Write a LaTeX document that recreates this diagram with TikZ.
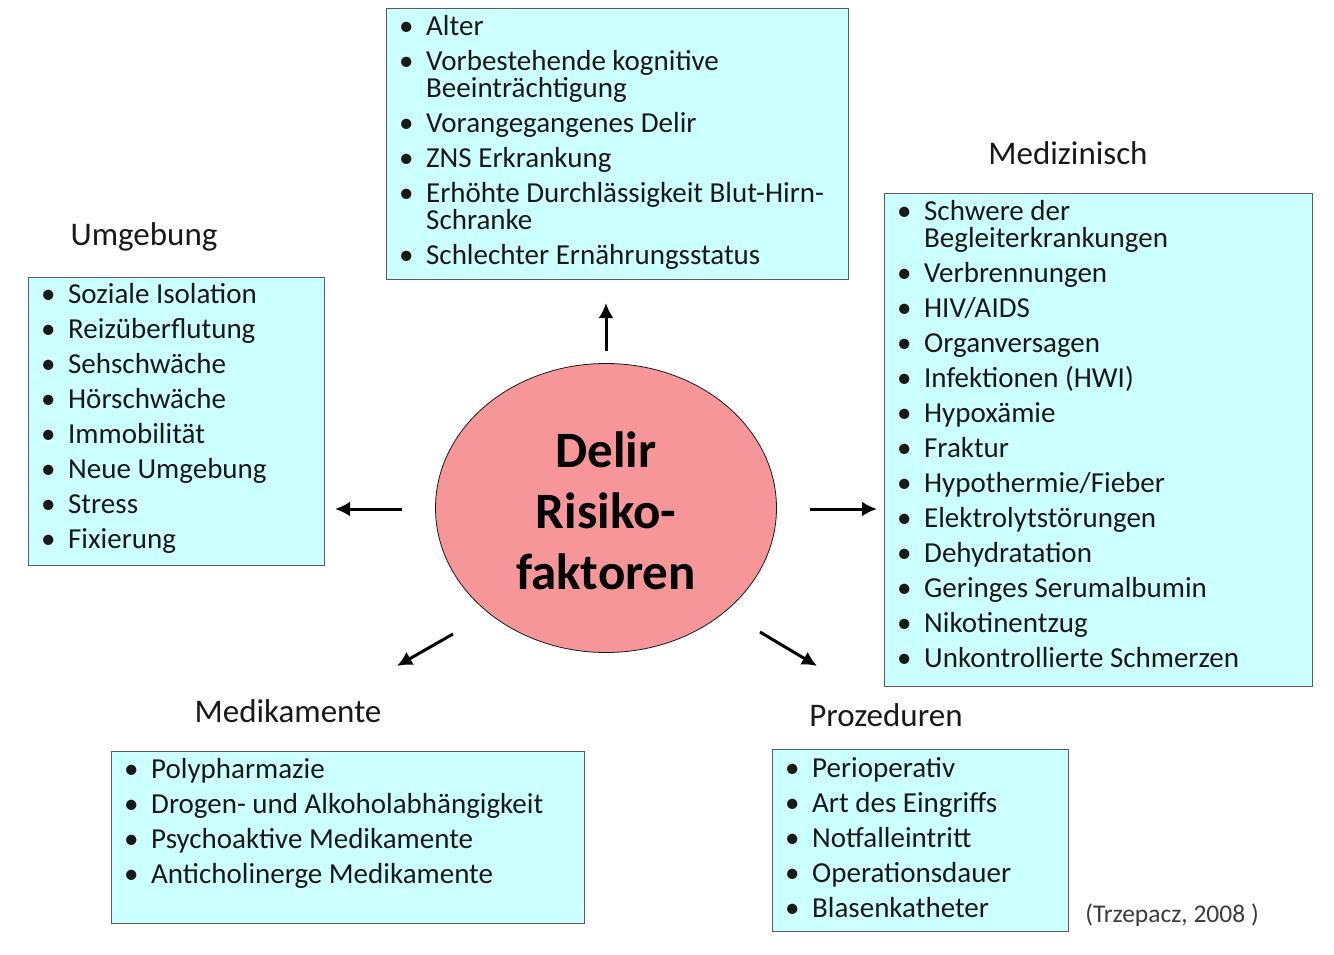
\documentclass[tikz,border=0pt]{standalone}
\usepackage{fontspec}
\setmainfont{Carlito}
\usetikzlibrary{arrows.meta,shapes.geometric}
\definecolor{boxfill}{RGB}{204,255,255}
\definecolor{boxline}{RGB}{90,90,90}
\definecolor{ovalfill}{RGB}{246,150,152}
\definecolor{txt}{RGB}{25,25,25}
\newcommand{\bul}{\makebox[27pt][l]{\textbullet}}
\newcommand{\cont}{\hspace*{27pt}}
\begin{document}
\begin{tikzpicture}[x=1pt,y=-1pt,
  panel/.style={draw=boxline, line width=1.3pt, fill=boxfill, anchor=north west, inner sep=0pt},
  list/.style={anchor=north west, align=left, inner sep=0pt, font=\fontsize{29}{35}\selectfont, text=txt},
  heading/.style={font=\fontsize{33}{38}\selectfont, text=txt},
  arr/.style={line width=3pt, -{Latex[length=15pt,width=15pt]}}]
\useasboundingbox (0,0) rectangle (1334,955);
% top box
\node[panel, minimum width=462pt, minimum height=271pt] (topbox) at (386,8) {};
\node[list] (toptext) at (399,15) {\bul Alter\\
\bul Vorbestehende kognitive\\[-8pt]
\cont Beeinträchtigung\\
\bul Vorangegangenes Delir\\
\bul ZNS Erkrankung\\
\bul Erhöhte Durchlässigkeit Blut-Hirn-\\[-8pt]
\cont Schranke\\
\bul Schlechter Ernährungsstatus};
% Umgebung
\node[heading] (hUmg) at (144,237) {Umgebung};
\node[panel, minimum width=296pt, minimum height=288pt] (umgbox) at (28,277) {};
\node[list] (umgtext) at (41,283) {\bul Soziale Isolation\\
\bul Reizüberflutung\\
\bul Sehschwäche\\
\bul Hörschwäche\\
\bul Immobilität\\
\bul Neue Umgebung\\
\bul Stress\\
\bul Fixierung};
% Medizinisch
\node[heading] (hMed) at (1068,153) {Medizinisch};
\node[panel, minimum width=428pt, minimum height=493pt] (medbox) at (884,193) {};
\node[list] (medtext) at (897,200) {\bul Schwere der\\[-8pt]
\cont Begleiterkrankungen\\
\bul Verbrennungen\\
\bul HIV/AIDS\\
\bul Organversagen\\
\bul Infektionen (HWI)\\
\bul Hypoxämie\\
\bul Fraktur\\
\bul Hypothermie/Fieber\\
\bul Elektrolytstörungen\\
\bul Dehydratation\\
\bul Geringes Serumalbumin\\
\bul Nikotinentzug\\
\bul Unkontrollierte Schmerzen};
% Medikamente
\node[heading] (hMedi) at (288,711) {Medikamente};
\node[panel, minimum width=473pt, minimum height=172pt] (medibox) at (111,751) {};
\node[list] (meditext) at (124,758) {\bul Polypharmazie\\
\bul Drogen- und Alkoholabhängigkeit\\
\bul Psychoaktive Medikamente\\
\bul Anticholinerge Medikamente};
% Prozeduren
\node[heading] (hPro) at (886,715) {Prozeduren};
\node[panel, minimum width=296pt, minimum height=182pt] (probox) at (772,749) {};
\node[list] (protext) at (785,757) {\bul Perioperativ\\
\bul Art des Eingriffs\\
\bul Notfalleintritt\\
\bul Operationsdauer\\
\bul Blasenkatheter};
% citation
\node[font=\fontsize{25.5}{30}\selectfont, text=txt!85] (cite) at (1172,915) {(Trzepacz, 2008 )};
% centre
\node[ellipse, draw=txt, line width=0.8pt, fill=ovalfill, minimum width=341pt, minimum height=289pt, inner sep=0pt] (core) at (606,508) {};
\node[align=center, font=\bfseries\fontsize{51}{61}\selectfont, text=black] (coretext) at (606,511) {Delir\\ Risiko-\\ faktoren};
% arrows
\coordinate (upS) at (606,351); \coordinate (upE) at (606,303);
\coordinate (leS) at (402,509); \coordinate (leE) at (335,509);
\coordinate (riS) at (810,509); \coordinate (riE) at (877,509);
\coordinate (dlS) at (453,634); \coordinate (dlE) at (397,666);
\coordinate (drS) at (760,632); \coordinate (drE) at (817,666);
\draw[arr] (upS) -- (upE);
\draw[arr] (leS) -- (leE);
\draw[arr] (riS) -- (riE);
\draw[arr] (dlS) -- (dlE);
\draw[arr] (drS) -- (drE);
\end{tikzpicture}
\end{document}
